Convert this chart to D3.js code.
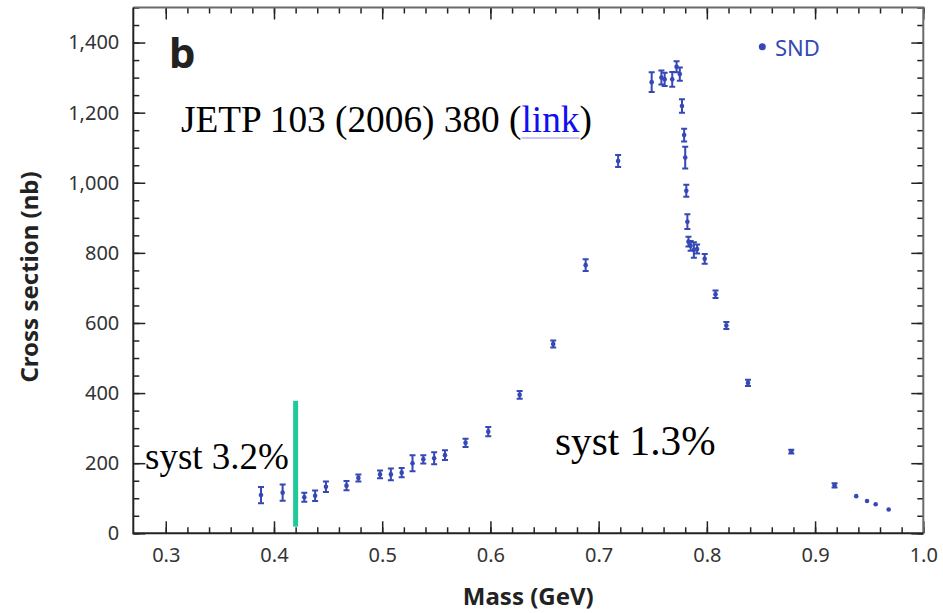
<!DOCTYPE html>
<html>
<head>
<meta charset="utf-8">
<script src="https://cdn.jsdelivr.net/npm/d3@7"></script>
<style>
  body { margin: 0; background: #fff; }
  svg { display: block; }
</style>
</head>
<body>
<svg id="chart"></svg>
<script>
// SND data
const mass = [0.388, 0.408, 0.428, 0.438, 0.448, 0.467, 0.478, 0.498, 0.508, 0.518,
  0.528, 0.538, 0.548, 0.558, 0.577, 0.598, 0.627, 0.658, 0.688, 0.718,
  0.749, 0.758, 0.761, 0.768, 0.772, 0.775, 0.777, 0.779, 0.780, 0.781,
  0.782, 0.783, 0.785, 0.788, 0.791, 0.798, 0.808, 0.818, 0.838, 0.878,
  0.918, 0.938, 0.948, 0.956, 0.968];
const xsec = [109, 116, 103, 107, 133, 136, 158, 168, 168, 173,
  200, 211, 214, 223, 258, 290, 395, 540, 765, 1062,
  1287, 1300, 1295, 1295, 1331, 1310, 1219, 1136, 1072, 977,
  889, 832, 820, 808, 811, 783, 682, 593, 429, 233,
  137, 106, 92, 83, 68];
const xerr = [23, 23, 13, 15, 15, 13, 10, 11, 17, 13,
  23, 12, 17, 14, 12, 13, 11, 10, 17, 17,
  28, 20, 19, 21, 16, 19, 19, 18, 31, 17,
  21, 14, 14, 22, 13, 14, 11, 10, 9, 5,
  6, 0, 0, 0, 0];

const xTicks = [0.3, 0.4, 0.5, 0.6, 0.7, 0.8, 0.9, 1.0];
const yTicks = [0, 200, 400, 600, 800, 1000, 1200, 1400];

const W = 943, H = 613;
const pLeft = 133.3, pRight = 923.3, pTop = 7.5, pBottom = 533.3;
const blue = '#3548b5';

const svg = d3.select('#chart').attr('width', W).attr('height', H);

const x = d3.scaleLinear().domain([0.27, 1.0]).range([pLeft, pRight]);
const y = d3.scaleLinear().domain([0, 1500]).range([pBottom, pTop]);

const xMinor = d3.range(0.3, 1.001, 0.02).map(v => +v.toFixed(2));
const yMinor = d3.range(0, 1501, 50);

// ticks (all pointing inward), no domain lines
function tickGroup(axis, tx, ty) {
  const g = svg.append('g').attr('transform', `translate(${tx},${ty})`).call(axis);
  g.select('.domain').remove();
  g.selectAll('line').attr('stroke', '#222').attr('stroke-width', 1.5);
  return g;
}
tickGroup(d3.axisTop(x).tickValues(xMinor).tickSize(6).tickFormat(''), 0, pBottom);
tickGroup(d3.axisTop(x).tickValues(xTicks).tickSize(12).tickFormat(''), 0, pBottom);
tickGroup(d3.axisBottom(x).tickValues(xMinor).tickSize(6).tickFormat(''), 0, pTop);
tickGroup(d3.axisBottom(x).tickValues(xTicks).tickSize(12).tickFormat(''), 0, pTop);
tickGroup(d3.axisRight(y).tickValues(yMinor).tickSize(6).tickFormat(''), pLeft, 0);
tickGroup(d3.axisRight(y).tickValues(yTicks).tickSize(12).tickFormat(''), pLeft, 0);
tickGroup(d3.axisLeft(y).tickValues(yMinor).tickSize(6).tickFormat(''), pRight, 0);
tickGroup(d3.axisLeft(y).tickValues(yTicks).tickSize(12).tickFormat(''), pRight, 0);

// frame
svg.append('path')
  .attr('d', `M${pLeft},${pTop}H${pRight}V${pBottom}`)
  .attr('fill', 'none').attr('stroke', '#6a6a6a').attr('stroke-width', 2);
svg.append('path')
  .attr('d', `M${pLeft},${pTop}V${pBottom}H${pRight}`)
  .attr('fill', 'none').attr('stroke', '#222').attr('stroke-width', 2);

// tick labels
const xLab = svg.append('g').attr('transform', `translate(0,${pBottom})`)
  .call(d3.axisBottom(x).tickValues(xTicks).tickSize(0).tickPadding(14.5).tickFormat(d3.format('.1f')));
const yLab = svg.append('g').attr('transform', `translate(${pLeft},0)`)
  .call(d3.axisLeft(y).tickValues(yTicks).tickSize(0).tickPadding(14).tickFormat(d3.format(',')));
[xLab, yLab].forEach(g => {
  g.select('.domain').remove();
  g.selectAll('text').attr('font-family', '"Noto Sans", sans-serif')
    .attr('font-size', 20).attr('fill', '#333');
});

// axis titles
svg.append('text')
  .attr('x', (pLeft + pRight) / 2).attr('y', 605)
  .attr('text-anchor', 'middle')
  .attr('font-family', '"Noto Sans", sans-serif').attr('font-weight', 'bold')
  .attr('font-size', 24).attr('fill', '#222')
  .text('Mass (GeV)');
svg.append('text')
  .attr('transform', 'translate(38,277) rotate(-90)')
  .attr('text-anchor', 'middle')
  .attr('font-family', '"Noto Sans", sans-serif').attr('font-weight', 'bold')
  .attr('font-size', 24).attr('fill', '#222')
  .text('Cross section (nb)');

// panel letter
svg.append('text')
  .attr('x', 169).attr('y', 68)
  .attr('font-family', '"Noto Sans", sans-serif').attr('font-weight', 'bold')
  .attr('font-size', 42).attr('fill', '#222')
  .text('b');

// reference text with link
const ref = svg.append('text')
  .attr('x', 181).attr('y', 131.7)
  .attr('font-family', '"Liberation Serif", "Times New Roman", serif')
  .attr('font-size', 37.3).attr('fill', '#000');
ref.append('tspan').text('JETP 103 (2006) 380 (');
ref.append('tspan').attr('fill', '#1010ee').text('link');
ref.append('tspan').text(')');
const refNode = ref.node();
const ulStart = refNode.getStartPositionOfChar(21).x;
const ulEnd = refNode.getEndPositionOfChar(24).x;
svg.append('line')
  .attr('x1', ulStart).attr('x2', ulEnd).attr('y1', 138).attr('y2', 138)
  .attr('stroke', '#c8c8f2').attr('stroke-width', 2);

// legend
svg.append('circle').attr('cx', 762.3).attr('cy', 46.7).attr('r', 3.5).attr('fill', blue);
svg.append('text')
  .attr('x', 775).attr('y', 55.5)
  .attr('font-family', '"Noto Sans", sans-serif')
  .attr('font-size', 22).attr('fill', blue)
  .text('SND');

// systematics annotation
svg.append('line')
  .attr('x1', x(0.42)).attr('x2', x(0.42))
  .attr('y1', y(378)).attr('y2', y(19))
  .attr('stroke', '#1fc99a').attr('stroke-width', 5);
svg.append('text')
  .attr('x', 145).attr('y', 468.5)
  .attr('font-family', '"Liberation Serif", "Times New Roman", serif')
  .attr('font-size', 37).attr('fill', '#000')
  .text('syst 3.2%');
svg.append('text')
  .attr('x', 555).attr('y', 455)
  .attr('font-family', '"Liberation Serif", "Times New Roman", serif')
  .attr('font-size', 41.3).attr('fill', '#000')
  .text('syst 1.3%');

// data points with error bars
const pts = mass.map((m, i) => ({ m, v: xsec[i], e: xerr[i] }));
const cap = 3;
const bars = svg.append('g').attr('stroke', blue).attr('stroke-width', 2).attr('fill', 'none');
pts.filter(d => d.e > 0).forEach(d => {
  const cx = x(d.m), y0 = y(d.v - d.e), y1 = y(d.v + d.e);
  bars.append('path')
    .attr('d', `M${cx},${y0}V${y1}M${cx - cap},${y0}H${cx + cap}M${cx - cap},${y1}H${cx + cap}`);
});
svg.append('g').selectAll('circle')
  .data(pts)
  .join('circle')
  .attr('cx', d => x(d.m))
  .attr('cy', d => y(d.v))
  .attr('r', 2.3)
  .attr('fill', blue);
</script>
</body>
</html>
